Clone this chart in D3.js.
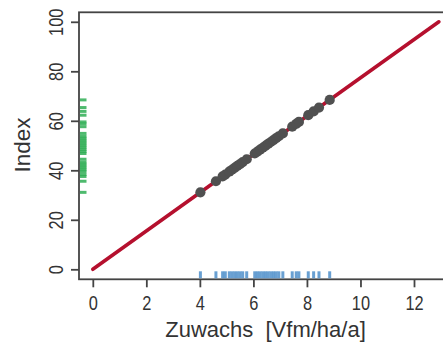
<!DOCTYPE html>
<html><head><meta charset="utf-8">
<script src="https://cdn.jsdelivr.net/npm/d3@7"></script>
<style>body{margin:0;background:#fff}svg{display:block}text{font-family:"Liberation Sans",Arial,sans-serif;fill:#333}</style>
</head><body><svg id="c" width="443" height="344"></svg>
<script>
const zuwachs = [4.02, 4.6, 4.85, 4.95, 5.1, 5.2, 5.3, 5.4, 5.5, 5.6, 5.75, 6.05, 6.15, 6.25, 6.35, 6.45, 6.55, 6.65, 6.75, 6.85, 6.95, 7.1, 7.45, 7.6, 7.7, 8.05, 8.25, 8.45, 8.85];
const indexMax = 12.93; // Zuwachs at Index = 100
const index = zuwachs.map(v => v * 100 / indexMax);
const xTicks = [0, 2, 4, 6, 8, 10, 12];
const yTicks = [0, 20, 40, 60, 80, 100];

const svg = d3.select("#c");
const x = d3.scaleLinear().domain([0, 12]).range([92.8, 414]);
const y = d3.scaleLinear().domain([0, 100]).range([269.3, 21.8]);
const frame = {l: 79, t: 12.3, b: 279.3, r: 470};

svg.append("rect").attr("x", frame.l).attr("y", frame.t).attr("width", frame.r - frame.l).attr("height", frame.b - frame.t)
  .attr("fill", "none").attr("stroke", "#444").attr("stroke-width", 1.8);

// x axis
const xa = svg.append("g").attr("transform", `translate(0,${frame.b})`)
  .call(d3.axisBottom(x).tickValues(xTicks).tickSize(8).tickPadding(9).tickFormat(d3.format("d")));
xa.select(".domain").remove();
xa.selectAll("line").attr("stroke", "#444").attr("stroke-width", 1.8);
xa.selectAll("text").attr("font-size", 20).attr("fill", "#444").attr("transform", "scale(0.82,1)");

// y axis
const ya = svg.append("g").attr("transform", `translate(${frame.l},0)`)
  .call(d3.axisLeft(y).tickValues(yTicks).tickSize(8).tickFormat(d3.format("d")));
ya.select(".domain").remove();
ya.selectAll("line").attr("stroke", "#444").attr("stroke-width", 1.8);
ya.selectAll(".tick text").attr("font-size", 20).attr("fill", "#444")
  .attr("x", 0).attr("dy", null).attr("y", -16)
  .attr("transform", "rotate(-90) scale(0.82,1)").attr("text-anchor", "middle");

// titles
svg.append("text").attr("x", 265.5).attr("y", 337).attr("text-anchor", "middle").attr("font-size", 22).attr("fill", "#333")
  .style("white-space", "pre").text("Zuwachs  [Vfm/ha/a]");
svg.append("text").attr("transform", "translate(29.5,145) rotate(-90)").attr("text-anchor", "middle").attr("font-size", 22.5).attr("fill", "#333").text("Index");

// rugs
svg.append("g").selectAll("line").data(zuwachs).join("line")
  .attr("x1", d => x(d)).attr("x2", d => x(d)).attr("y1", frame.b - 8).attr("y2", frame.b - 1)
  .attr("stroke", "#4f8fca").attr("stroke-width", 3).attr("stroke-opacity", 0.85);
svg.append("g").selectAll("line").data(index).join("line")
  .attr("y1", d => y(d)).attr("y2", d => y(d)).attr("x1", frame.l + 1).attr("x2", frame.l + 7.5)
  .attr("stroke", "#2fae55").attr("stroke-width", 3).attr("stroke-opacity", 0.85);

// line
svg.append("line").attr("x1", x(0)).attr("y1", y(0)).attr("x2", x(indexMax)).attr("y2", y(100))
  .attr("stroke", "#b5102e").attr("stroke-width", 3.6).attr("stroke-linecap", "round");

// points
svg.append("g").selectAll("circle").data(zuwachs).join("circle")
  .attr("cx", d => x(d)).attr("cy", (d, i) => y(index[i])).attr("r", 5.1).attr("fill", "#505050");
</script></body></html>
